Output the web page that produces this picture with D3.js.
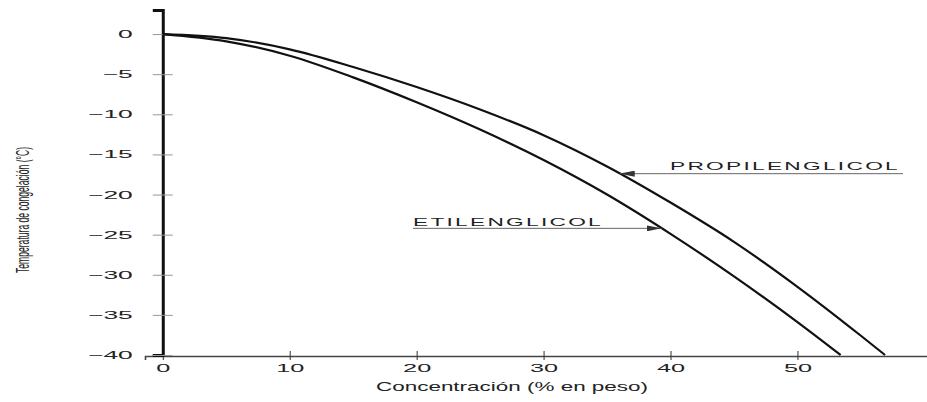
<!DOCTYPE html>
<html>
<head>
<meta charset="utf-8">
<script src="https://cdnjs.cloudflare.com/ajax/libs/d3/7.8.5/d3.min.js"></script>
<style>
  body { margin: 0; background: #fff; }
  text { font-family: "Liberation Sans", Arial, sans-serif; fill: #222; }
</style>
</head>
<body>
<div id="chart"></div>
<script>
// concentracion (% en peso) -> temperatura de congelacion (C)
var etiConc = [0, 5, 10, 15, 20, 25, 30, 35, 40, 45, 50, 53.4]
var etiTemp = [0, -0.9, -2.7, -5.4, -8.5, -11.9, -15.7, -20.0, -24.9, -30.2, -35.9, -40]

var propiConc = [0, 5, 10, 15, 20, 25, 30, 35, 40, 45, 50, 55, 56.9]
var propiTemp = [0, -0.5, -1.9, -4.1, -6.6, -9.4, -12.6, -16.5, -21.0, -25.9, -31.5, -37.6, -40]

var xTicks = [0, 10, 20, 30, 40, 50]
var yTicks = [0, -5, -10, -15, -20, -25, -30, -35, -40]

// labels and the concentration where their arrow touches the curve
var labelNames = ["PROPILENGLICOL", "ETILENGLICOL"]
var labelConc = [36.0, 39.3]

var width = 927, height = 402

var svg = d3.select("#chart")
  .append("svg")
    .attr("width", width)
    .attr("height", height)

var x = d3.scaleLinear()
  .domain([-1.4, 60.6])
  .range([145, 932])

var y = d3.scaleLinear()
  .domain([-40, 3])
  .range([355, 10])

// the scan is stretched sideways, so the tick labels are too
function widen(sel, k) {
  sel.each(function() {
    var t = d3.select(this)
    var x0 = +t.attr("x") || 0
    t.attr("x", x0 / k).attr("transform", "scale(" + k + ",1)")
  })
}

// X axis
var xAxis = svg.append("g")
  .attr("transform", "translate(0," + (y(-40) + 1) + ")")
  .call(d3.axisBottom(x).tickValues(xTicks).tickSizeOuter(0).tickSize(4).tickPadding(4).tickFormat(d3.format("d")))
xAxis.select(".domain").attr("stroke", "#444").attr("stroke-width", 1.6)
xAxis.selectAll(".tick line").attr("y1", -5).attr("y2", 4).attr("stroke", "#333")
xAxis.selectAll(".tick text")
  .style("font-size", "11.5px")
  .style("font-family", "Liberation Sans, Arial, sans-serif")
  .attr("fill", "#222")
  .call(widen, 2.2)

// Y axis
var yAxis = svg.append("g")
  .attr("transform", "translate(" + x(0) + ",0)")
  .call(d3.axisLeft(y).tickValues(yTicks).tickSizeOuter(0).tickSize(10).tickPadding(20)
    .tickFormat(function(d) { return d == 0 ? "0" : "\u2212" + Math.abs(d) }))
yAxis.select(".domain").attr("stroke", "#111").attr("stroke-width", 3)
yAxis.selectAll(".tick line").attr("x1", -10).attr("x2", 10).attr("stroke", "#999")
yAxis.selectAll(".tick text")
  .style("font-size", "11px")
  .style("font-family", "Liberation Sans, Arial, sans-serif")
  .attr("fill", "#222")
  .call(widen, 2.4)

// axis titles
svg.append("text")
  .attr("text-anchor", "middle")
  .attr("x", 512)
  .attr("y", 391)
  .style("font-size", "13px")
  .attr("textLength", 272)
  .attr("lengthAdjust", "spacingAndGlyphs")
  .text("Concentración (% en peso)")

svg.append("text")
  .attr("text-anchor", "middle")
  .attr("transform", "translate(29,210) rotate(-90)")
  .style("font-size", "19px")
  .attr("textLength", 126)
  .attr("lengthAdjust", "spacingAndGlyphs")
  .text("Temperatura de congelación (°C)")

// curves
var line = d3.line()
  .x(function(d) { return x(d[0]) })
  .y(function(d) { return y(d[1]) })
  .curve(d3.curveMonotoneX)

var series = [
  d3.zip(propiConc, propiTemp),
  d3.zip(etiConc, etiTemp)
]

svg.selectAll(".curve")
  .data(series)
  .enter().append("path")
    .attr("class", "curve")
    .attr("d", line)
    .attr("fill", "none")
    .attr("stroke", "#111")
    .attr("stroke-width", 2.2)

// labels with arrows
function tempAt(conc, temps, c) {
  return d3.scaleLinear().domain(conc).range(temps)(c)
}

svg.append("defs").append("marker")
    .attr("id", "arrow")
    .attr("viewBox", "0 0 15 6")
    .attr("refX", 15).attr("refY", 3)
    .attr("markerWidth", 15).attr("markerHeight", 6)
    .attr("markerUnits", "userSpaceOnUse")
    .attr("orient", "auto")
  .append("path")
    .attr("d", "M0,0L15,3L0,6Z")
    .attr("fill", "#333")

// PROPILENGLICOL: text on the right, arrow pointing left to the curve
var pc = labelConc[0]
var px = x(pc), py = y(tempAt(propiConc, propiTemp, pc))
svg.append("line")
  .attr("x1", 903).attr("y1", py)
  .attr("x2", px).attr("y2", py)
  .attr("stroke", "#666").attr("stroke-width", 1)
  .attr("marker-end", "url(#arrow)")
svg.append("text")
  .attr("x", 670).attr("y", py - 3.5)
  .style("font-size", "10px")
  .style("letter-spacing", "1px")
  .attr("textLength", 230)
  .attr("lengthAdjust", "spacingAndGlyphs")
  .text(labelNames[0])

// ETILENGLICOL: text on the left, arrow pointing right to the curve
var ec = labelConc[1]
var ex = x(ec), ey = y(tempAt(etiConc, etiTemp, ec))
svg.append("line")
  .attr("x1", 413).attr("y1", ey)
  .attr("x2", ex).attr("y2", ey)
  .attr("stroke", "#666").attr("stroke-width", 1)
  .attr("marker-end", "url(#arrow)")
svg.append("text")
  .attr("x", 413).attr("y", ey - 2.5)
  .style("font-size", "10px")
  .style("letter-spacing", "1px")
  .attr("textLength", 190)
  .attr("lengthAdjust", "spacingAndGlyphs")
  .text(labelNames[1])
</script>
</body>
</html>
